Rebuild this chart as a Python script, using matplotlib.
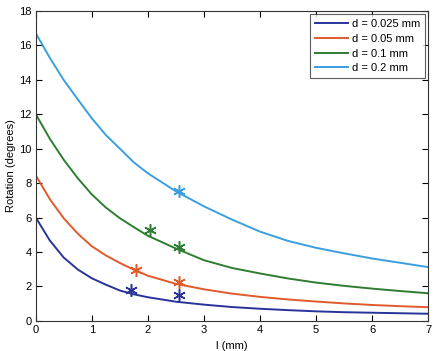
import matplotlib
matplotlib.use('Agg')
import matplotlib.pyplot as plt

plt.rcParams['font.family'] = ['Liberation Sans', 'DejaVu Sans']

# l (mm) sample positions
l_mm = [0, 0.25, 0.5, 0.75, 1, 1.25, 1.5, 1.75, 2, 2.5, 3, 3.5, 4, 4.5, 5, 5.5, 6, 6.5, 7]

rot_d025 = [6.00, 4.67, 3.67, 2.98, 2.47, 2.10, 1.76, 1.54, 1.37, 1.11, 0.94, 0.80,
            0.70, 0.62, 0.55, 0.50, 0.47, 0.44, 0.41]
rot_d05 = [8.45, 7.07, 5.95, 5.06, 4.33, 3.80, 3.36, 2.97, 2.62, 2.15, 1.83, 1.58,
           1.39, 1.24, 1.12, 1.01, 0.92, 0.85, 0.79]
rot_d1 = [12.0, 10.58, 9.35, 8.28, 7.34, 6.58, 5.96, 5.44, 4.94, 4.20, 3.52, 3.07,
          2.75, 2.46, 2.22, 2.03, 1.87, 1.73, 1.60]
rot_d2 = [16.7, 15.28, 13.98, 12.86, 11.76, 10.79, 10.0, 9.20, 8.57, 7.52, 6.65, 5.88,
          5.18, 4.64, 4.24, 3.92, 3.62, 3.37, 3.12]

# measured points (stars)
meas_l_d025 = [1.70, 2.56]
meas_r_d025 = [1.79, 1.50]
meas_l_d05 = [1.79, 2.56]
meas_r_d05 = [2.96, 2.27]
meas_l_d1 = [2.03, 2.56]
meas_r_d1 = [5.29, 4.28]
meas_l_d2 = [2.56]
meas_r_d2 = [7.56]

labels = ['d = 0.025 mm', 'd = 0.05 mm', 'd = 0.1 mm', 'd = 0.2 mm']
colors = ['#28349a', '#e05a2c', '#2e7d32', '#3a9ee0']

fig = plt.figure(figsize=(4.36, 3.51), dpi=100)
ax = fig.add_axes([0.082, 0.086, 0.900, 0.883])

curves = [rot_d025, rot_d05, rot_d1, rot_d2]
meas = [(meas_l_d025, meas_r_d025), (meas_l_d05, meas_r_d05),
        (meas_l_d1, meas_r_d1), (meas_l_d2, meas_r_d2)]

for c, lab, col in zip(curves, labels, colors):
    ax.plot(l_mm, c, color=col, lw=1.4, label=lab)
for (ml, mr), col in zip(meas, colors):
    ax.plot(ml, mr, linestyle='none', marker=(6, 2, 0), markersize=9,
            markeredgewidth=1.1, color=col)

ax.set_xlim(0, 7)
ax.set_ylim(0, 18)
ax.set_xticks(range(0, 8))
ax.set_yticks(range(0, 19, 2))
ax.tick_params(direction='in', top=True, right=True, length=4, labelsize=8,
               width=0.8, pad=3)
for s in ax.spines.values():
    s.set_linewidth(0.8)
    s.set_color('#333333')

ax.set_xlabel('l (mm)', fontsize=8, labelpad=4)
ax.set_ylabel('Rotation (degrees)', fontsize=8, labelpad=2)

leg = ax.legend(loc='upper right', fontsize=8, frameon=True, fancybox=False,
                handlelength=3.0, borderpad=0.45, labelspacing=0.42,
                borderaxespad=0.3, handletextpad=0.3)
leg.get_frame().set_edgecolor('#333333')
leg.get_frame().set_linewidth(0.8)

fig.savefig('out.png', dpi=100)
